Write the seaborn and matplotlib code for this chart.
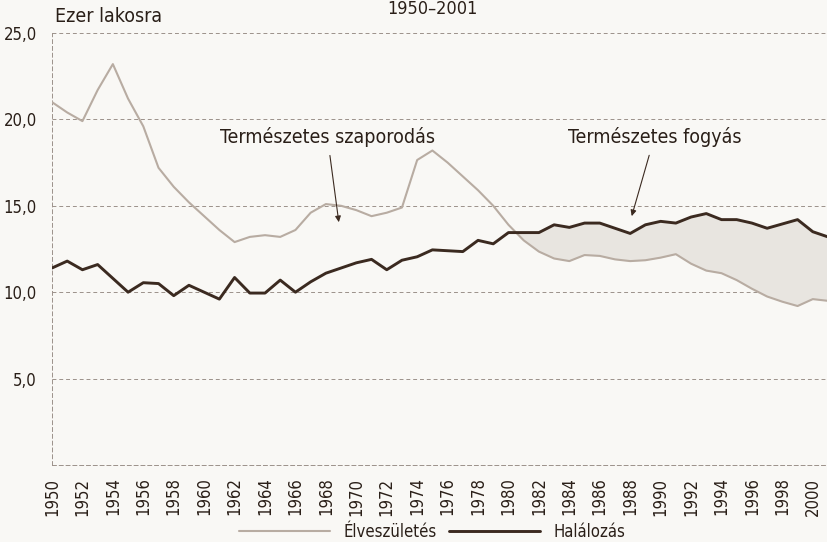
import numpy as np
import pandas as pd
import matplotlib
matplotlib.use("Agg")
import matplotlib.pyplot as plt
import seaborn as sns

# Data (per 1000 inhabitants)
years = list(range(1950, 2002))
births = [21.0, 20.4, 19.9, 21.7, 23.2, 21.2, 19.6, 17.2, 16.1, 15.2,
          14.4, 13.6, 12.9, 13.2, 13.3, 13.2, 13.6, 14.6, 15.1, 15.0,
          14.75, 14.4, 14.6, 14.9, 17.65, 18.2, 17.5, 16.7, 15.9, 15.0,
          13.9, 13.0, 12.35, 11.95, 11.8, 12.15, 12.1, 11.9, 11.8, 11.85,
          12.0, 12.2, 11.65, 11.25, 11.1, 10.7, 10.2, 9.75, 9.45, 9.2,
          9.6, 9.5]
deaths = [11.4, 11.8, 11.3, 11.6, 10.8, 10.0, 10.55, 10.5, 9.8, 10.4,
          10.0, 9.6, 10.85, 9.95, 9.95, 10.7, 10.0, 10.6, 11.1, 11.4,
          11.7, 11.9, 11.3, 11.85, 12.05, 12.45, 12.4, 12.35, 13.0, 12.8,
          13.45, 13.45, 13.45, 13.9, 13.75, 14.0, 14.0, 13.7, 13.4, 13.9,
          14.1, 14.0, 14.35, 14.55, 14.2, 14.2, 14.0, 13.7, 13.95, 14.2,
          13.5, 13.2]
series_names = ["Élveszületés", "Halálozás"]
y_ticks = [5, 10, 15, 20, 25]
title = "1950–2001"
y_label = "Ezer lakosra"
note_growth = "Természetes szaporodás"
note_decline = "Természetes fogyás"

df = pd.DataFrame({"year": years, series_names[0]: births, series_names[1]: deaths})
long_df = df.melt(id_vars="year", var_name="series", value_name="rate")

bg = "#f9f8f5"
light = "#b8aca2"
dark = "#3b2a20"
ink = "#2a1f18"

sns.set_theme(style="white")
plt.rcParams["font.family"] = ["DejaVu Sans"]
plt.rcParams["font.stretch"] = "condensed"

fig = plt.figure(figsize=(8.28, 5.42), dpi=100, facecolor=bg)
ax = fig.add_axes([52 / 828, 1 - 465 / 542, 1 - 52 / 828, (465 - 33) / 542])
ax.set_facecolor(bg)

b = np.array(births)
d = np.array(deaths)
ax.fill_between(years, b, d, where=d >= b, interpolate=True,
                color="#e8e5e0", zorder=1, linewidth=0)

sns.lineplot(data=long_df, x="year", y="rate", hue="series",
             palette=[light, dark], ax=ax, legend=False, zorder=3)
ax.lines[0].set_linewidth(1.5)
ax.lines[1].set_linewidth(2.1)

ax.set_xlim(1950, 2000.5)
ax.set_ylim(0, 25)
ax.set_yticks(y_ticks)
ax.set_yticklabels([f"{v:.1f}".replace(".", ",") for v in y_ticks])
ax.set_xticks(range(1950, 2001, 2))
ax.set_xticks(range(1950, 2002), minor=True)
ax.tick_params(axis="x", which="major", labelrotation=90, labelsize=12,
               length=5, color="#8a8078", width=0.6, pad=4, labelcolor=ink)
ax.tick_params(axis="x", which="minor", length=3, color="#8a8078", width=0.6)
ax.tick_params(axis="y", labelsize=12, length=0, pad=11, labelcolor=ink)
ax.set_xlabel("")
ax.set_ylabel("")

for v in y_ticks:
    ax.axhline(v, color="#9c918a", lw=0.7, ls=(0, (4, 3)), zorder=0)
for s in ["top", "right"]:
    ax.spines[s].set_visible(False)
for s in ["left", "bottom"]:
    ax.spines[s].set_linestyle((0, (4, 3)))
    ax.spines[s].set_color("#9c918a")
    ax.spines[s].set_linewidth(0.7)

fig.text(55 / 828, 1 - 17 / 542, y_label, fontsize=14, color=ink, va="center")
fig.text(432 / 828, 1 - 9 / 542, title, fontsize=13, color=ink, ha="center", va="center")

arrow = dict(arrowstyle="-|>,head_length=0.25,head_width=0.12", color=dark, lw=0.8,
             shrinkA=4, shrinkB=0)
ax.annotate(note_growth, xy=(1968.85, 14.05), xytext=(1968.1, 19.0),
            fontsize=14, color=ink, ha="center", va="center", arrowprops=arrow)
ax.annotate(note_decline, xy=(1988.1, 14.4), xytext=(1989.6, 19.0),
            fontsize=14, color=ink, ha="center", va="center", arrowprops=arrow)

handles = [plt.Line2D([], [], color=light, lw=1.5), plt.Line2D([], [], color=dark, lw=2.1)]
fig.legend(handles, series_names, loc="center", bbox_to_anchor=(432 / 828, 1 - 532 / 542),
           ncol=2, frameon=False, fontsize=12, handlelength=5.5, columnspacing=0.7,
           handletextpad=0.8, labelcolor=ink)

fig.savefig("out.png", dpi=100, facecolor=bg)
